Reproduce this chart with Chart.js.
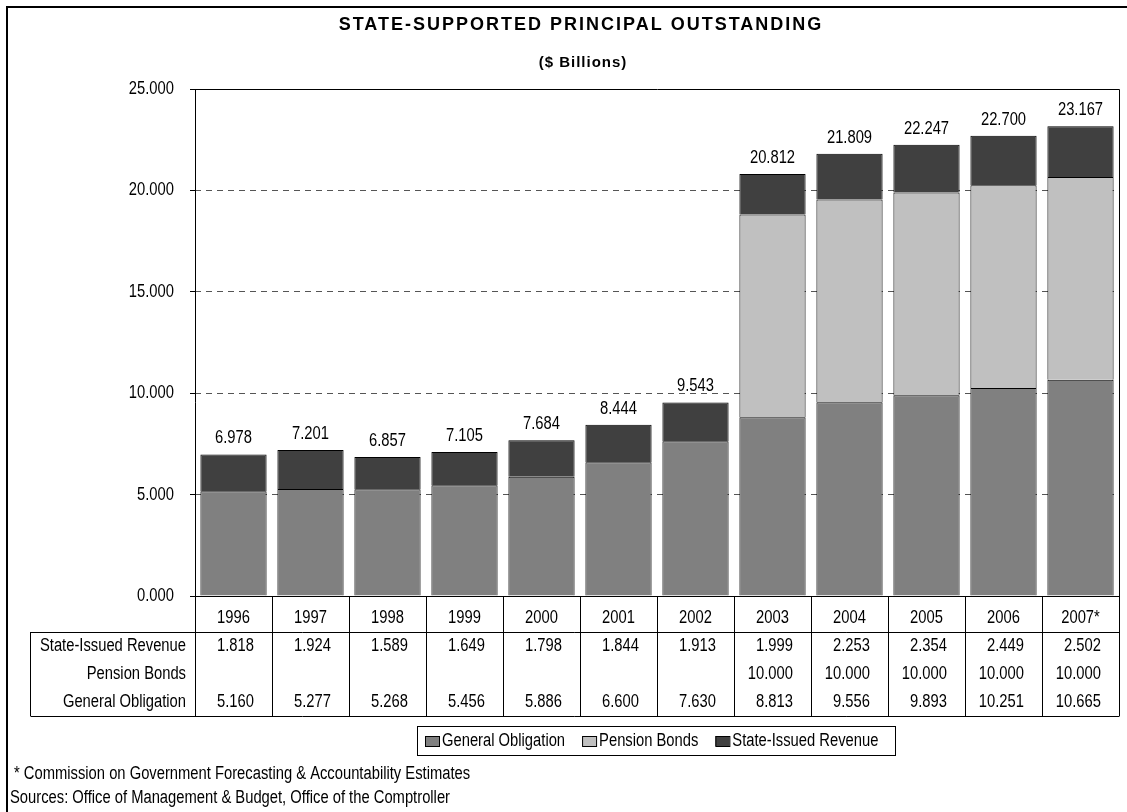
<!DOCTYPE html>
<html>
<head>
<meta charset="utf-8">
<script src="https://cdn.jsdelivr.net/npm/chart.js@4"></script>
<style>
  html, body { margin: 0; padding: 0; background: #fff; }
  canvas { display: block; }
</style>
</head>
<body>
<canvas id="chart" width="1127" height="812"></canvas>
<script>
// Data
const years = ['1996', '1997', '1998', '1999', '2000', '2001', '2002', '2003', '2004', '2005', '2006', '2007*'];
const generalObligation = [5.160, 5.277, 5.268, 5.456, 5.886, 6.600, 7.630, 8.813, 9.556, 9.893, 10.251, 10.665];
const pensionBonds = [null, null, null, null, null, null, null, 10.000, 10.000, 10.000, 10.000, 10.000];
const stateIssuedRevenue = [1.818, 1.924, 1.589, 1.649, 1.798, 1.844, 1.913, 1.999, 2.253, 2.354, 2.449, 2.502];
const yTicks = [0, 5, 10, 15, 20, 25];

const FONT = '"Liberation Sans", Arial, sans-serif';
const NARROW = 0.82; // no Arial Narrow installed, squeeze Arial instead
const TABLE_TOP = 632;
const TABLE_BOTTOM = 716;
const LABEL_LEFT = 30;

function narrowText(ctx, text, x, y) {
  ctx.save();
  ctx.translate(x, y);
  ctx.scale(NARROW, 1);
  ctx.fillText(text, 0, 0);
  ctx.restore();
}
function narrowWidth(ctx, text) {
  return ctx.measureText(text).width * NARROW;
}

// Draws title, y labels, bar totals, data table, legend and footnotes
const extras = {
  id: 'extras',
  afterDraw(chart) {
    const ctx = chart.ctx;
    const area = chart.chartArea;
    const x = chart.scales.x;
    const yScale = chart.scales.y;
    const step = (area.right - area.left) / years.length;
    ctx.save();

    // plot border
    ctx.strokeStyle = '#000';
    ctx.lineWidth = 1;
    ctx.beginPath();
    ctx.moveTo(area.left + 0.5, area.top + 0.5);
    ctx.lineTo(area.right + 0.5, area.top + 0.5);
    ctx.lineTo(area.right + 0.5, TABLE_BOTTOM + 0.5);
    ctx.moveTo(area.left + 0.5, area.top);
    ctx.lineTo(area.left + 0.5, TABLE_BOTTOM + 0.5);
    ctx.moveTo(area.left, area.bottom + 0.5);
    ctx.lineTo(area.right, area.bottom + 0.5);
    ctx.stroke();

    // titles
    ctx.fillStyle = '#000';
    ctx.textAlign = 'center';
    ctx.textBaseline = 'middle';
    ctx.font = 'bold 18px ' + FONT;
    ctx.letterSpacing = '2px';
    ctx.fillText('STATE-SUPPORTED PRINCIPAL OUTSTANDING', 581, 25);
    ctx.font = 'bold 15px ' + FONT;
    ctx.letterSpacing = '1px';
    ctx.fillText('($ Billions)', 583, 63);
    ctx.letterSpacing = '0px';

    ctx.font = '18px ' + FONT;

    // y axis labels
    ctx.textAlign = 'right';
    yScale.ticks.forEach(t => narrowText(ctx, t.value.toFixed(3), area.left - 21, yScale.getPixelForValue(t.value)));

    // totals above bars
    ctx.textAlign = 'center';
    years.forEach((y, i) => {
      const total = generalObligation[i] + (pensionBonds[i] || 0) + stateIssuedRevenue[i];
      narrowText(ctx, total.toFixed(3), x.getPixelForValue(i), yScale.getPixelForValue(total) - 16);
    });

    // data table grid
    ctx.beginPath();
    ctx.moveTo(LABEL_LEFT + 0.5, TABLE_TOP + 0.5);
    ctx.lineTo(area.right, TABLE_TOP + 0.5);
    ctx.moveTo(LABEL_LEFT + 0.5, TABLE_BOTTOM + 0.5);
    ctx.lineTo(area.right, TABLE_BOTTOM + 0.5);
    ctx.moveTo(LABEL_LEFT + 0.5, TABLE_TOP);
    ctx.lineTo(LABEL_LEFT + 0.5, TABLE_BOTTOM);
    for (let i = 1; i < years.length; i++) {
      const gx = Math.round(area.left + step * i) + 0.5;
      ctx.moveTo(gx, area.bottom);
      ctx.lineTo(gx, TABLE_BOTTOM);
    }
    ctx.stroke();

    const rows = [
      ['State-Issued Revenue', stateIssuedRevenue],
      ['Pension Bonds', pensionBonds],
      ['General Obligation', generalObligation]
    ];
    const rowY = [646, 674, 702];
    years.forEach((y, i) => {
      ctx.textAlign = 'center';
      narrowText(ctx, y, x.getPixelForValue(i), 618);
      ctx.textAlign = 'right';
      const cellRight = area.left + step * (i + 1);
      rows.forEach((r, j) => {
        const v = r[1][i];
        if (v !== null) narrowText(ctx, v.toFixed(3), cellRight - 18, rowY[j]);
      });
    });
    ctx.textAlign = 'right';
    rows.forEach((r, j) => narrowText(ctx, r[0], area.left - 9, rowY[j]));

    // legend
    const lx = 417, ly = 726, lw = 478, lh = 29;
    ctx.strokeRect(lx + 0.5, ly + 0.5, lw, lh);
    ctx.textAlign = 'left';
    let cx = lx + 8;
    chart.data.datasets.forEach(ds => {
      ctx.fillStyle = ds.backgroundColor;
      ctx.fillRect(cx, ly + 10, 14, 10);
      ctx.strokeRect(cx + 0.5, ly + 10.5, 14, 10);
      ctx.fillStyle = '#000';
      narrowText(ctx, ds.label, cx + 17, ly + lh / 2 + 1);
      cx += 17 + narrowWidth(ctx, ds.label) + 17;
    });

    // footnotes
    narrowText(ctx, '* Commission on Government Forecasting & Accountability Estimates', 14, 774);
    narrowText(ctx, 'Sources: Office of Management & Budget, Office of the Comptroller', 10, 798);

    // outer frame
    ctx.lineWidth = 2;
    ctx.beginPath();
    ctx.moveTo(7, 812);
    ctx.lineTo(7, 7);
    ctx.lineTo(1127, 7);
    ctx.stroke();
    ctx.restore();
  }
};

new Chart(document.getElementById('chart'), {
  type: 'bar',
  data: {
    labels: years,
    datasets: [
      { label: 'General Obligation', data: generalObligation, backgroundColor: '#808080' },
      { label: 'Pension Bonds', data: pensionBonds, backgroundColor: '#C0C0C0' },
      { label: 'State-Issued Revenue', data: stateIssuedRevenue, backgroundColor: '#404040' }
    ]
  },
  options: {
    responsive: false,
    animation: false,
    layout: { padding: { left: 0, top: 89, right: 8, bottom: 216 } },
    datasets: {
      bar: { borderColor: '#000', borderWidth: 1, barPercentage: 0.86, categoryPercentage: 1 }
    },
    plugins: { legend: { display: false }, title: { display: false }, tooltip: { enabled: false } },
    scales: {
      x: { stacked: true, display: false },
      y: {
        stacked: true,
        min: 0,
        max: 25,
        afterFit: s => { s.width = 195; },
        afterBuildTicks: s => { s.ticks = yTicks.map(v => ({ value: v })); },
        ticks: { display: false },
        border: { display: false, dash: [6, 5] },
        grid: {
          tickLength: 5,
          tickColor: '#000',
          tickBorderDash: [],
          color: c => (c.tick.value > 0 && c.tick.value < 25) ? '#555' : 'rgba(0,0,0,0)'
        }
      }
    }
  },
  plugins: [extras]
});
</script>
</body>
</html>
